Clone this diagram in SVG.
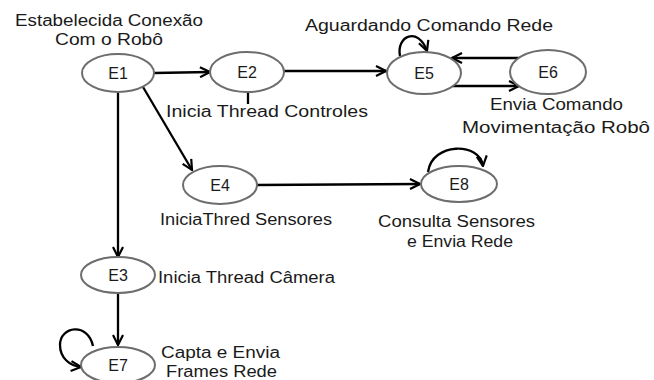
<svg xmlns="http://www.w3.org/2000/svg" width="654" height="380" viewBox="0 0 654 380">
<style>
.n ellipse{fill:#fff;stroke:#6d6d6d;stroke-width:2}
text{font-family:"Liberation Sans",Arial,sans-serif;font-size:16px;fill:#1a1a1a}
.c{text-anchor:middle}
.e path,.e line{fill:none;stroke:#000;stroke-width:2.3}
</style>
<defs>
<marker id="a" viewBox="0 0 12 12" refX="11" refY="6" markerWidth="12" markerHeight="12" markerUnits="userSpaceOnUse" orient="auto">
<path d="M1,1 L11,6 L1,11" fill="none" stroke="#000" stroke-width="2.2"/>
</marker>
</defs>
<rect width="654" height="380" fill="#fff"/>
<g class="e">
<line x1="154" y1="73" x2="210" y2="72" marker-end="url(#a)"/>
<line x1="284" y1="71" x2="386" y2="71" marker-end="url(#a)"/>
<line x1="450" y1="86" x2="519" y2="86" marker-end="url(#a)"/>
<line x1="524" y1="58" x2="452" y2="58" marker-end="url(#a)"/>
<path d="M400,56 C396,36 418,26 427,51" marker-end="url(#a)"/>
<line x1="143" y1="87" x2="192" y2="170" marker-end="url(#a)"/>
<line x1="118" y1="92" x2="118" y2="257" marker-end="url(#a)"/>
<line x1="248" y1="93" x2="248" y2="104"/>
<line x1="256" y1="185" x2="420" y2="184" marker-end="url(#a)"/>
<path d="M428,172 C432,142 480,142 483,166" marker-end="url(#a)"/>
<line x1="118" y1="293" x2="118" y2="345" marker-end="url(#a)"/>
<path d="M93,346 C88,322 60,326 60,345 C60,358 70,366 81,367" marker-end="url(#a)"/>
</g>
<g id="E1" class="n"><ellipse cx="118" cy="73" rx="36" ry="19"/><text class="c" x="118" y="79">E1</text></g>
<g id="E2" class="n"><ellipse cx="247" cy="72" rx="37" ry="20"/><text class="c" x="247" y="78">E2</text></g>
<g id="E5" class="n"><ellipse cx="424" cy="73" rx="37" ry="21"/><text class="c" x="424" y="79">E5</text></g>
<g id="E6" class="n"><ellipse cx="548" cy="72" rx="38" ry="22"/><text class="c" x="548" y="78">E6</text></g>
<g id="E4" class="n"><ellipse cx="220" cy="185" rx="37" ry="19"/><text class="c" x="220" y="191">E4</text></g>
<g id="E8" class="n"><ellipse cx="459" cy="184" rx="38" ry="18"/><text class="c" x="459" y="190">E8</text></g>
<g id="E3" class="n"><ellipse cx="118" cy="275" rx="37" ry="18"/><text class="c" x="118" y="281">E3</text></g>
<g id="E7" class="n"><ellipse cx="118" cy="365" rx="37" ry="18"/><text class="c" x="118" y="371">E7</text></g>
<g id="labels">
<text x="15" y="26" textLength="188" lengthAdjust="spacingAndGlyphs">Estabelecida Conexão</text>
<text x="55" y="45" textLength="108" lengthAdjust="spacingAndGlyphs">Com o Robô</text>
<text x="166" y="117" textLength="202" lengthAdjust="spacingAndGlyphs">Inicia Thread Controles</text>
<text x="305" y="31" textLength="248" lengthAdjust="spacingAndGlyphs">Aguardando Comando Rede</text>
<text x="490" y="110" textLength="133" lengthAdjust="spacingAndGlyphs">Envia Comando</text>
<text x="462" y="133" textLength="188" lengthAdjust="spacingAndGlyphs">Movimentação Robô</text>
<text x="160" y="225" textLength="172" lengthAdjust="spacingAndGlyphs">IniciaThred Sensores</text>
<text x="378" y="227" textLength="157" lengthAdjust="spacingAndGlyphs">Consulta Sensores</text>
<text x="407" y="247" textLength="106" lengthAdjust="spacingAndGlyphs">e Envia Rede</text>
<text x="158" y="283" textLength="177" lengthAdjust="spacingAndGlyphs">Inicia Thread Câmera</text>
<text x="161" y="358" textLength="119" lengthAdjust="spacingAndGlyphs">Capta e Envia</text>
<text x="166" y="377" textLength="111" lengthAdjust="spacingAndGlyphs">Frames Rede</text>
</g>
</svg>
